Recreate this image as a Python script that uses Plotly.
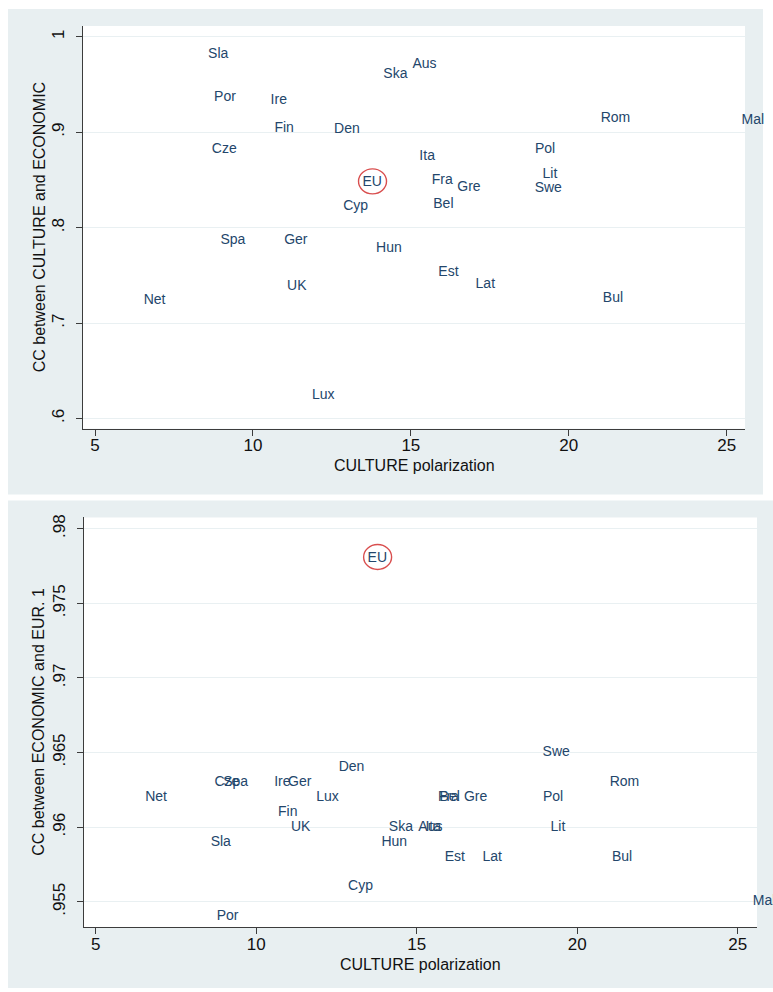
import plotly.graph_objects as go

# Country labels and the shared horizontal variable
countries = ["Net", "Sla", "Cze", "Por", "Spa", "Ire", "Fin", "Ger", "UK", "Lux",
             "Den", "Cyp", "EU", "Hun", "Ska", "Aus", "Ita", "Fra", "Bel", "Est",
             "Gre", "Lat", "Swe", "Pol", "Lit", "Rom", "Bul", "Mal"]
culture_pol = [6.54, 8.58, 8.70, 8.77, 8.97, 10.56, 10.68, 10.99, 11.08, 11.87,
               12.57, 12.86, 13.47, 13.90, 14.13, 15.05, 15.27, 15.66, 15.71, 15.87,
               16.47, 17.05, 18.92, 18.93, 19.17, 21.01, 21.08, 25.47]

# Correlation between CULTURE and ECONOMIC
cc_culture_econ = [0.724, 0.982, 0.882, 0.936, 0.787, 0.933, 0.904, 0.787, 0.738, 0.624,
                   0.903, 0.822, 0.847, 0.778, 0.961, 0.971, 0.875, 0.849, 0.824, 0.753,
                   0.842, 0.740, 0.841, 0.882, 0.856, 0.914, 0.726, 0.912]

# Correlation between ECONOMIC and EUR. 1
cc_econ_eur1 = [0.962, 0.959, 0.963, 0.954, 0.963, 0.963, 0.961, 0.963, 0.960, 0.962,
                0.964, 0.956, 0.978, 0.959, 0.960, 0.960, 0.960, 0.962, 0.962, 0.958,
                0.962, 0.958, 0.965, 0.962, 0.960, 0.963, 0.958, 0.955]

x_ticks = [5, 10, 15, 20, 25]
y1_ticks = [0.6, 0.7, 0.8, 0.9, 1.0]
y1_ticktext = [".6", ".7", ".8", ".9", "1"]
y2_ticks = [0.955, 0.96, 0.965, 0.97, 0.975, 0.98]
y2_ticktext = [".955", ".96", ".965", ".97", ".975", ".98"]

W, H = 773, 992
FONT = "Liberation Sans, Arial, sans-serif"
LABEL_COLOR = "#23466b"
PANEL_BG = "#e8eff1"
AXIS_COLOR = "#3c3c3c"
GRID_COLOR = "#e9f0f2"


def px_x(p):
    return p / W


def px_y(p):
    return 1 - p / H


# pixel boxes of the two plot areas: (left, top, right, bottom)
top_box = (83, 23, 745, 427)
bot_box = (84, 516, 757, 927)

fig = go.Figure()

fig.add_trace(go.Scatter(
    x=culture_pol, y=cc_culture_econ, text=countries, mode="text",
    textposition="middle right", cliponaxis=False,
    textfont=dict(family=FONT, size=14, color=LABEL_COLOR),
    xaxis="x", yaxis="y", showlegend=False, hoverinfo="skip"))

fig.add_trace(go.Scatter(
    x=culture_pol, y=cc_econ_eur1, text=countries, mode="text",
    textposition="middle right", cliponaxis=False,
    textfont=dict(family=FONT, size=14, color=LABEL_COLOR),
    xaxis="x2", yaxis="y2", showlegend=False, hoverinfo="skip"))

axis_common = dict(
    showline=True, linecolor=AXIS_COLOR, linewidth=1.3, mirror=False,
    ticks="outside", ticklen=6, tickwidth=1.2, tickcolor=AXIS_COLOR,
    zeroline=False, tickfont=dict(family=FONT, size=17, color="#111111"),
)

fig.update_layout(
    width=W, height=H,
    margin=dict(l=0, r=0, t=0, b=0),
    paper_bgcolor="white", plot_bgcolor="white",
    xaxis=dict(domain=[px_x(top_box[0]), px_x(top_box[2])], anchor="y",
               range=[4.62, 25.58], tickvals=x_ticks, showgrid=False,
               ticklabelstandoff=-5, **axis_common),
    yaxis=dict(domain=[px_y(top_box[3]), px_y(top_box[1])], anchor="x",
               range=[0.5893, 1.0115], tickvals=y1_ticks, ticktext=y1_ticktext,
               tickangle=-90, showgrid=True, gridcolor=GRID_COLOR, gridwidth=1.2,
               ticklabelstandoff=5, **axis_common),
    xaxis2=dict(domain=[px_x(bot_box[0]), px_x(bot_box[2])], anchor="y2",
                range=[4.635, 25.6], tickvals=x_ticks, showgrid=False,
                ticklabelstandoff=-5, **axis_common),
    yaxis2=dict(domain=[px_y(bot_box[3]), px_y(bot_box[1])], anchor="x2",
                range=[0.9533, 0.98075], tickvals=y2_ticks, ticktext=y2_ticktext,
                tickangle=-90, showgrid=True, gridcolor=GRID_COLOR, gridwidth=1.2,
                ticklabelstandoff=5, **axis_common),
)

# Panel backgrounds, then white plot areas on top of them
shapes = [
    dict(type="rect", xref="paper", yref="paper", layer="below",
         x0=px_x(8), x1=px_x(763), y0=px_y(493), y1=px_y(6),
         fillcolor=PANEL_BG, line=dict(width=0)),
    dict(type="rect", xref="paper", yref="paper", layer="below",
         x0=px_x(8), x1=px_x(773), y0=px_y(988), y1=px_y(499),
         fillcolor=PANEL_BG, line=dict(width=0)),
]
for (l, t, r, b) in (top_box, bot_box):
    shapes.append(dict(type="rect", xref="paper", yref="paper", layer="below",
                       x0=px_x(l), x1=px_x(r), y0=px_y(b), y1=px_y(t),
                       fillcolor="white", line=dict(width=0)))

# Red ring around the EU label in each panel
eu = countries.index("EU")
for xa, ya, yv in (("x", "y", cc_culture_econ[eu]), ("x2", "y2", cc_econ_eur1[eu])):
    shapes.append(dict(type="circle", xref=xa, yref=ya,
                       xsizemode="pixel", ysizemode="pixel",
                       xanchor=culture_pol[eu], yanchor=yv,
                       x0=-4, x1=24, y0=-11, y1=14,
                       line=dict(color="#d94f4f", width=1.4)))
fig.update_layout(shapes=shapes)

# Axis titles
title_font = dict(family=FONT, size=16, color="#111111")
annotations = [
    dict(text="CULTURE polarization", xref="paper", yref="paper",
         x=px_x(414), y=px_y(464), showarrow=False, font=title_font,
         xanchor="center", yanchor="middle"),
    dict(text="CC between CULTURE and ECONOMIC", xref="paper", yref="paper",
         x=px_x(39), y=px_y(225), showarrow=False, font=title_font, textangle=-90,
         xanchor="center", yanchor="middle"),
    dict(text="CULTURE polarization", xref="paper", yref="paper",
         x=px_x(420), y=px_y(964), showarrow=False, font=title_font,
         xanchor="center", yanchor="middle"),
    dict(text="CC between ECONOMIC and EUR. 1", xref="paper", yref="paper",
         x=px_x(39), y=px_y(721), showarrow=False, font=title_font, textangle=-90,
         xanchor="center", yanchor="middle"),
]
fig.update_layout(annotations=annotations)

fig.write_html("out.html")
